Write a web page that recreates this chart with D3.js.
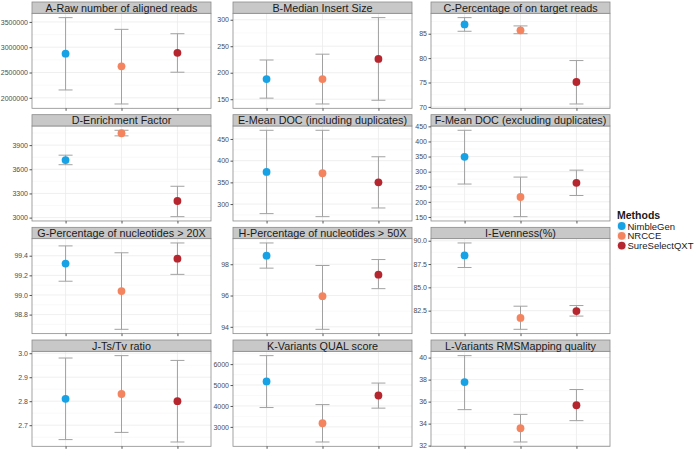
<!DOCTYPE html>
<html><head><meta charset="utf-8">
<script src="https://cdn.jsdelivr.net/npm/d3@7"></script>
<style>body{margin:0;background:#fff}svg{display:block;font-family:"Liberation Sans",Arial,sans-serif}</style>
</head><body>
<svg id="c" width="700" height="451"></svg>
<script>
const methods = ["NimbleGen","NRCCE","SureSelectQXT"];
const colors = ["#17A2E6","#F4845F","#B6262E"];
const panelTitles = [
  "A-Raw number of aligned reads","B-Median Insert Size","C-Percentage of on target reads",
  "D-Enrichment Factor","E-Mean DOC (including duplicates)","F-Mean DOC (excluding duplicates)",
  "G-Percentage of nucleotides > 20X","H-Percentage of nucleotides > 50X","I-Evenness(%)",
  "J-Ts/Tv ratio","K-Variants QUAL score","L-Variants RMSMapping quality"];
const means = [
  [2872000,2622000,2890000],[188,188,226],[86.9,85.7,75.1],
  [3714,4047,3206],[374,371,350],[349,216,263],
  [99.32,99.04,99.37],[98.55,95.96,97.33],[88.42,81.72,82.46],
  [2.81,2.83,2.80],[5175,3175,4500],[37.78,33.58,35.67]];
const lows = [
  [2155000,1878000,2506000],[152,141,148],[85.5,85.0,70.6],
  [3657,4015,3012],[278,271,291],[259,151,221],
  [99.14,98.65,99.21],[97.75,93.84,96.44],[87.13,80.50,81.92],
  [2.64,2.67,2.63],[3925,2278,3896],[35.27,32.33,34.27]];
const highs = [
  [3585000,3353000,3267000],[224,235,304],[88.3,86.6,79.5],
  [3775,4084,3389],[470,470,409],[437,282,305],
  [99.50,99.43,99.53],[99.36,97.92,98.30],[89.76,82.98,83.05],
  [2.98,2.99,2.97],[6406,4066,5094],[40.18,34.84,37.10]];
const yTicks = [
  [2000000,2500000,3000000,3500000],[150,200,250,300],[70,75,80,85],
  [3000,3300,3600,3900],[300,350,400,450],[150,200,250,300,350,400,450],
  [98.8,99.0,99.2,99.4],[94,96,98],[82.5,85,87.5,90],
  [2.7,2.8,2.9,3.0],[3000,4000,5000,6000],[32,34,36,38,40]];
const yTickLabels = [
  ["2000000","2500000","3000000","3500000"],["150","200","250","300"],["70","75","80","85"],
  ["3000","3300","3600","3900"],["300","350","400","450"],["150","200","250","300","350","400","450"],
  ["98.8","99.0","99.2","99.4"],["94","96","98"],["82.5","85.0","87.5","90.0"],
  ["2.7","2.8","2.9","3.0"],["3000","4000","5000","6000"],["32","34","36","38","40"]];

const svg = d3.select("#c");
const colX = [32, 233, 431], panelW = 179;
const rowStep = 112.67, stripH = 11.3, plotH = 95;

panelTitles.forEach((title, p) => {
  const c = p % 3, r = Math.floor(p / 3);
  const x0 = colX[c], x1 = x0 + panelW;
  const sTop = 2 + r * rowStep, pTop = sTop + stripH, pBot = pTop + plotH;
  const lo = d3.min(lows[p]), hi = d3.max(highs[p]), rg = hi - lo;
  const y = d3.scaleLinear().domain([lo - 0.05 * rg, hi + 0.05 * rg]).range([pBot, pTop]);
  const x = d3.scalePoint().domain(methods).range([x0, x1]).padding(0.6);
  const g = svg.append("g");
  g.append("rect").attr("x", x0).attr("y", pTop).attr("width", panelW).attr("height", plotH).attr("fill", "#fff");
  const t = yTicks[p], step = t[1] - t[0];
  const minor = [t[0] - step / 2].concat(t.map(v => v + step / 2));
  const dom = y.domain();
  g.selectAll(".mn").data(minor.filter(v => v > dom[0] && v < dom[1])).join("line")
    .attr("x1", x0).attr("x2", x1).attr("y1", d => y(d)).attr("y2", d => y(d))
    .attr("stroke", "#f5f5f5").attr("stroke-width", 0.6);
  g.selectAll(".mj").data(t).join("line")
    .attr("x1", x0).attr("x2", x1).attr("y1", d => y(d)).attr("y2", d => y(d))
    .attr("stroke", "#ebebeb").attr("stroke-width", 0.8);
  g.selectAll(".vx").data(methods).join("line")
    .attr("x1", d => x(d)).attr("x2", d => x(d)).attr("y1", pTop).attr("y2", pBot)
    .attr("stroke", "#ebebeb").attr("stroke-width", 0.8);
  const cap = x.step() * 0.125;
  const eb = g.selectAll(".eb").data(methods).join("g").attr("stroke", "#999").attr("stroke-width", 1).attr("opacity", 0.9);
  eb.append("line").attr("x1", d => x(d)).attr("x2", d => x(d))
    .attr("y1", (d, i) => y(lows[p][i])).attr("y2", (d, i) => y(highs[p][i]));
  eb.append("line").attr("x1", d => x(d) - cap).attr("x2", d => x(d) + cap)
    .attr("y1", (d, i) => y(lows[p][i])).attr("y2", (d, i) => y(lows[p][i]));
  eb.append("line").attr("x1", d => x(d) - cap).attr("x2", d => x(d) + cap)
    .attr("y1", (d, i) => y(highs[p][i])).attr("y2", (d, i) => y(highs[p][i]));
  g.selectAll(".pt").data(methods).join("circle")
    .attr("cx", d => x(d)).attr("cy", (d, i) => y(means[p][i])).attr("r", 3.9)
    .attr("fill", (d, i) => colors[i]);
  g.append("rect").attr("x", x0).attr("y", pTop).attr("width", panelW).attr("height", plotH)
    .attr("fill", "none").attr("stroke", "#8c8c8c").attr("stroke-width", 0.8);
  g.append("rect").attr("x", x0).attr("y", sTop).attr("width", panelW).attr("height", stripH)
    .attr("fill", "#c8c8c8").attr("stroke", "#8c8c8c").attr("stroke-width", 0.8);
  g.append("text").attr("x", x0 + panelW / 2).attr("y", sTop + stripH / 2 + 3.9)
    .attr("text-anchor", "middle").attr("font-size", 10.8).attr("fill", "#1a1a1a").text(title);
  const ya = g.append("g").attr("transform", `translate(${x0},0)`)
    .call(d3.axisLeft(y).tickValues(t).tickFormat((d, i) => yTickLabels[p][i]).tickSize(2.5).tickPadding(1.5));
  ya.select(".domain").remove();
  ya.selectAll("line").attr("stroke", "#555");
  ya.selectAll("text").attr("font-size", 7).attr("fill", "#4d4d4d").attr("font-family", "Liberation Sans, Arial, sans-serif");
  const xa = g.append("g").attr("transform", `translate(0,${pBot})`)
    .call(d3.axisBottom(x).tickSize(2.5).tickFormat(""));
  xa.select(".domain").remove();
  xa.selectAll("line").attr("stroke", "#555");
});

const lg = svg.append("g").attr("transform", "translate(617,0)");
lg.append("text").attr("x", 0).attr("y", 219).attr("font-size", 10.5).attr("font-weight", "bold").attr("fill", "#1a1a1a").text("Methods");
const li = lg.selectAll(".li").data(methods).join("g").attr("transform", (d, i) => `translate(0,${221.5 + i * 9.8})`);
li.append("rect").attr("width", 9).attr("height", 9).attr("fill", "#f2f2f2").attr("stroke", "#fff").attr("stroke-width", 0.5);
li.append("circle").attr("cx", 4.7).attr("cy", 4.5).attr("r", 3.9).attr("fill", (d, i) => colors[i]);
li.append("text").attr("x", 10.5).attr("y", 8).attr("font-size", 9.5).attr("fill", "#1a1a1a").text(d => d);
</script>
</body></html>
